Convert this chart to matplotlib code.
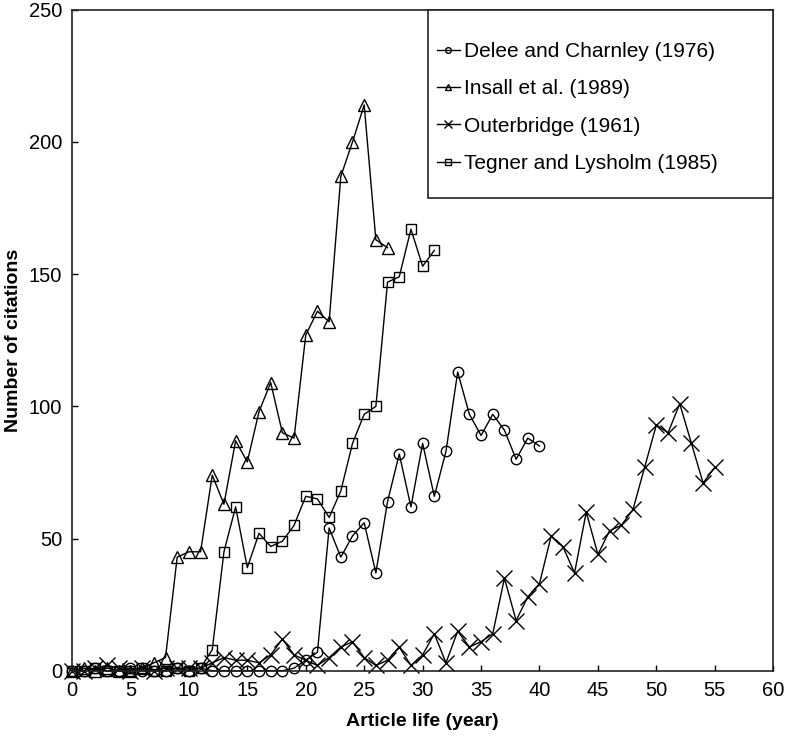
import matplotlib
matplotlib.use("Agg")
import matplotlib.pyplot as plt
from matplotlib.patches import Rectangle
import numpy as np

plt.rcParams["font.family"] = ["Liberation Sans", "DejaVu Sans"]

# --- data (citations per year of article life) ---
delee_years = list(range(0, 41))
delee_cites = [0, 0, 1, 0, 0, 1, 0, 0, 0, 1, 0, 1, 0, 0, 0, 0, 0, 0, 0, 1,
               4, 7, 54, 43, 51, 56, 37, 64, 82, 62, 86, 66, 83, 113, 97,
               89, 97, 91, 80, 88, 85]

insall_years = list(range(0, 28))
insall_cites = [0, 1, 0, 1, 0, 0, 1, 3, 5, 43, 45, 45, 74, 63, 87, 79, 98,
                109, 90, 88, 127, 136, 132, 187, 200, 214, 163, 160]

outer_years = list(range(0, 56))
outer_cites = [0, 0, 1, 2, 1, 0, 1, 0, 1, 1, 1, 1, 3, 5, 4, 4, 3, 6, 12, 6,
               4, 2, 5, 9, 11, 5, 2, 4, 9, 2, 6, 14, 3, 15, 9, 11, 14, 35,
               19, 28, 33, 51, 47, 37, 60, 44, 53, 55, 61, 77, 93, 90, 101,
               86, 71, 77]

tegner_years = list(range(0, 32))
tegner_cites = [0, 0, 1, 0, 0, 0, 1, 0, 0, 1, 0, 1, 8, 45, 62, 39, 52, 47,
                49, 55, 66, 65, 58, 68, 86, 97, 100, 147, 149, 167, 153, 159]

series = [
    ("Delee and Charnley (1976)", delee_years, delee_cites, "o", 7.5),
    ("Insall et al. (1989)", insall_years, insall_cites, "^", 8.5),
    ("Outerbridge (1961)", outer_years, outer_cites, "x", 11),
    ("Tegner and Lysholm (1985)", tegner_years, tegner_cites, "s", 7),
]

W, H = 787, 752
fig = plt.figure(figsize=(W / 100, H / 100), dpi=100)
ax = fig.add_axes([0.0915, 0.108, 0.891, 0.879])

for name, xs, ys, mk, ms in series:
    ax.plot(xs, ys, color="black", lw=1.0, marker=mk, ms=ms,
            mfc="none", mec="black", mew=1.0, label=name, clip_on=False)

ax.set_xlim(0, 60)
ax.set_ylim(0, 250)
ax.set_xticks(np.arange(0, 61, 5))
ax.set_yticks(np.arange(0, 251, 50))
ax.tick_params(direction="in", length=4, width=1, labelsize=14.5,
               top=False, right=False, pad=7)
for sp in ax.spines.values():
    sp.set_linewidth(1.2)
    sp.set_color("#222222")

ax.set_xlabel("Article life (year)", fontsize=14, fontweight="bold",
              labelpad=10)
ax.set_ylabel("Number of citations", fontsize=14, fontweight="bold",
              labelpad=5)

# legend box drawn separately: the reference has uneven padding
ax.add_patch(Rectangle((0.508, 0.715), 0.492, 0.285, transform=ax.transAxes,
                       facecolor="white", edgecolor="#222222", lw=1.2,
                       zorder=4, clip_on=False))
leg = ax.legend(loc="upper left", bbox_to_anchor=(437 / W, 1 - 42 / H),
                bbox_transform=fig.transFigure, frameon=False,
                borderpad=0, borderaxespad=0, fontsize=15,
                markerscale=0.55, handlelength=1.1, handletextpad=0.2,
                labelspacing=0.88)
leg.set_zorder(5)

plt.savefig("out.png", dpi=100)
